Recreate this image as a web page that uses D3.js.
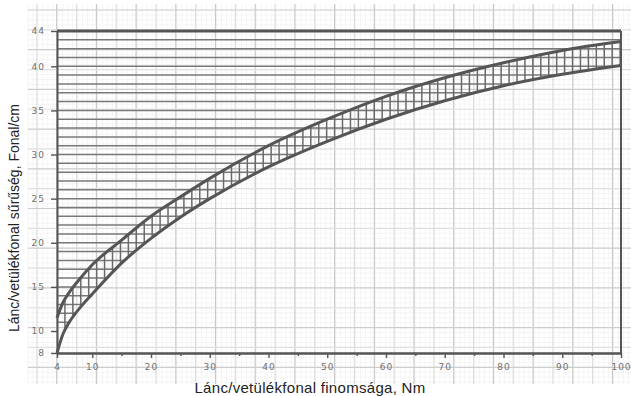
<!DOCTYPE html>
<html>
<head>
<meta charset="utf-8">
<script src="https://cdn.jsdelivr.net/npm/d3@7"></script>
<style>
  body { margin: 0; background: #fff; }
  svg { display: block; }
</style>
</head>
<body>
<script>
// values
var fineness = [4, 5, 6, 8, 10, 15, 20, 25, 30, 40, 50, 60, 70, 80, 90, 100];
var lowerDensity = [8.0, 9.7, 10.9, 12.7, 14.2, 17.7, 20.5, 22.9, 25.0, 28.6, 31.5, 34.0, 36.1, 37.8, 39.1, 40.1];
var upperDensity = [11.5, 13.2, 14.3, 16.0, 17.5, 20.3, 23.0, 25.2, 27.3, 31.0, 34.0, 36.6, 38.7, 40.4, 41.8, 42.8];

// axis ticks
var xTicks = [4, 10, 20, 30, 40, 50, 60, 70, 80, 90, 100];
var xMinorTicks = [15, 25, 35, 45, 55, 65, 75, 85, 95];
var yTicks = [8, 10, 15, 20, 25, 30, 35, 40, 44];

// texts
var xTitle = "Lánc/vetülékfonal finomsága, Nm";
var yTitle = "Lánc/vetülékfonal sűrűség, Fonal/cm";

// layout
var p = {
    width: 631,
    height: 396,
    left: 57,
    right: 621,
    top: 31,
    bottom: 353,
    ink: "#555",
    tickText: "#707070",
    // graph paper behind the chart
    paperX0: 28, paperX1: 631, paperY0: 4, paperY1: 384,
    paperStep: 19.85
};

var svg = d3.select("body").append("svg")
    .attr("width", p.width).attr("height", p.height);

var x = d3.scaleLinear().domain([4, 100]).range([p.left, p.right]);
// the printed axis is a bit stretched between 8 and 10
var y = d3.scaleLinear().domain([8, 10, 44]).range([p.bottom, 331, p.top]);

// ---- graph paper ----
var paper = svg.append("g");
var fine = p.paperStep / 4;
d3.range(p.paperX0, p.paperX1, fine).forEach(function (gx) {
    paper.append("line").attr("x1", gx).attr("x2", gx)
        .attr("y1", p.paperY0).attr("y2", p.paperY1)
        .attr("stroke", "#f3f3f3").attr("stroke-width", 0.8);
});
d3.range(p.paperY0 + 6, p.paperY1, fine).forEach(function (gy) {
    paper.append("line").attr("y1", gy).attr("y2", gy)
        .attr("x1", p.paperX0).attr("x2", p.paperX1)
        .attr("stroke", "#f3f3f3").attr("stroke-width", 0.8);
});
d3.range(0, 31).forEach(function (k) {
    var gx = 17 + k * p.paperStep;
    if (gx < p.paperX0) return;
    paper.append("line").attr("x1", gx).attr("x2", gx)
        .attr("y1", p.paperY0).attr("y2", p.paperY1)
        .attr("stroke", k % 2 === 0 ? "#c9c9c9" : "#dedede").attr("stroke-width", 1.2);
});
d3.range(0, 20).forEach(function (k) {
    var gy = 10 + k * p.paperStep;
    if (gy > p.paperY1) return;
    paper.append("line").attr("y1", gy).attr("y2", gy)
        .attr("x1", p.paperX0).attr("x2", p.paperX1)
        .attr("stroke", k % 2 === 0 ? "#cdcdcd" : "#e0e0e0").attr("stroke-width", 1.2);
});

// ---- curve data ----
var rows = fineness.map(function (n, i) {
    return { n: n, lo: lowerDensity[i], hi: upperDensity[i] };
});

var defs = svg.append("defs");

// region above the lower curve (horizontal lines stop at the lower curve)
defs.append("clipPath").attr("id", "aboveLower")
    .append("path")
    .attr("d", d3.area().curve(d3.curveMonotoneX)
        .x(function (d) { return x(d.n); })
        .y0(function (d) { return y(d.lo); })
        .y1(0)(rows));

// region between the two curves (vertical hatching)
defs.append("clipPath").attr("id", "band")
    .append("path")
    .attr("d", d3.area().curve(d3.curveMonotoneX)
        .x(function (d) { return x(d.n); })
        .y0(function (d) { return y(d.lo); })
        .y1(function (d) { return y(d.hi); })(rows));

// horizontal lines, one per Fonal/cm
var hLayer = svg.append("g").attr("clip-path", "url(#aboveLower)");
d3.range(11, 44).forEach(function (v) {
    hLayer.append("line")
        .attr("x1", p.left).attr("x2", p.right)
        .attr("y1", y(v)).attr("y2", y(v))
        .attr("stroke", "#787878").attr("stroke-width", 1.5);
});

// vertical hatching inside the band
var hatch = svg.append("g").attr("clip-path", "url(#band)");
d3.range(4, 100.01, 1.35).forEach(function (n) {
    hatch.append("line")
        .attr("x1", x(n)).attr("x2", x(n))
        .attr("y1", p.top).attr("y2", p.bottom)
        .attr("stroke", "#6a6a6a").attr("stroke-width", 1.5);
});

// the two curves
["lo", "hi"].forEach(function (key) {
    svg.append("path")
        .datum(rows)
        .attr("fill", "none")
        .attr("stroke", p.ink)
        .attr("stroke-width", 3)
        .attr("d", d3.line().curve(d3.curveMonotoneX)
            .x(function (d) { return x(d.n); })
            .y(function (d) { return y(d[key]); }));
});

// ---- frame ----
svg.append("line").attr("x1", p.left).attr("x2", p.right)
    .attr("y1", y(44)).attr("y2", y(44))
    .attr("stroke", p.ink).attr("stroke-width", 2.8);
svg.append("line").attr("x1", p.right).attr("x2", p.right)
    .attr("y1", y(44)).attr("y2", p.bottom)
    .attr("stroke", p.ink).attr("stroke-width", 2);

// ---- axes ----
function styleAxis(g) {
    g.select(".domain").attr("stroke", p.ink).attr("stroke-width", 2);
    g.selectAll(".tick line").attr("stroke", p.ink).attr("stroke-width", 1.4);
    g.selectAll(".tick text")
        .attr("fill", p.tickText)
        .style("font-family", "'DejaVu Sans', sans-serif")
        .style("font-size", "9px")
        .style("letter-spacing", "1px");
}

svg.append("g")
    .attr("transform", "translate(0," + p.bottom + ")")
    .call(d3.axisBottom(x).tickValues(xMinorTicks).tickSize(3).tickSizeOuter(0).tickFormat(""))
    .call(styleAxis);

svg.append("g")
    .attr("transform", "translate(0," + p.bottom + ")")
    .call(d3.axisBottom(x).tickValues(xTicks).tickSize(5).tickSizeOuter(0).tickPadding(6))
    .call(styleAxis);

svg.append("g")
    .attr("transform", "translate(" + p.left + ",0)")
    .call(d3.axisLeft(y).tickValues(yTicks).tickSize(6).tickSizeOuter(0).tickPadding(6))
    .call(styleAxis);

// ---- titles ----
svg.append("text")
    .attr("x", 310).attr("y", 393)
    .attr("text-anchor", "middle")
    .attr("fill", "#222")
    .style("font-family", "'Liberation Sans', Arial, sans-serif")
    .style("font-size", "15px")
    .style("letter-spacing", "0.3px")
    .text(xTitle);

svg.append("text")
    .attr("transform", "translate(19,218) rotate(-90)")
    .attr("text-anchor", "middle")
    .attr("fill", "#222")
    .style("font-family", "'Liberation Sans', Arial, sans-serif")
    .style("font-size", "14px")
    .text(yTitle);
</script>
</body>
</html>
